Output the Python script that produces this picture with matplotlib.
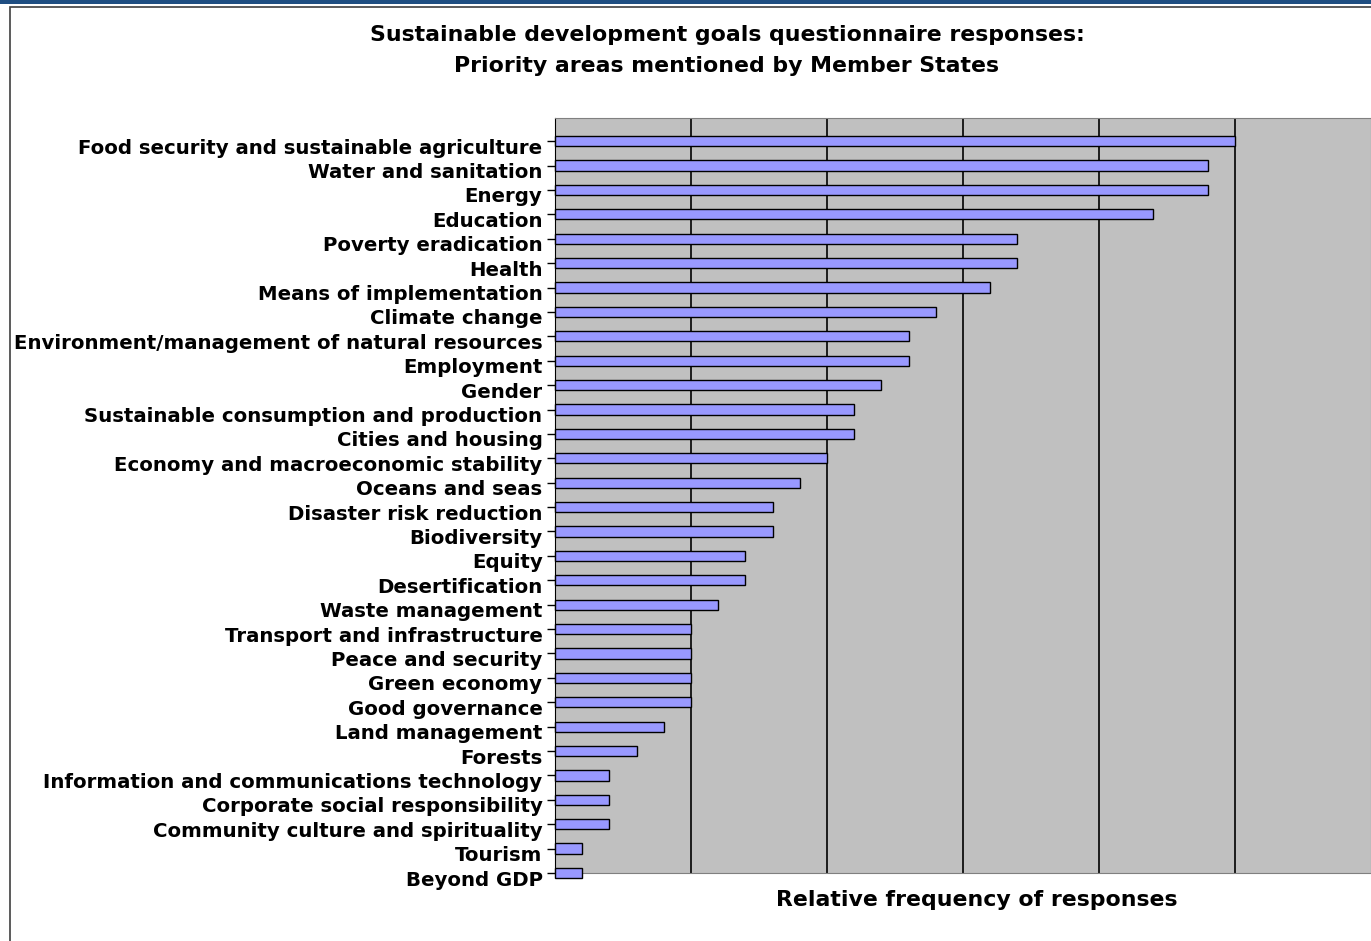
import matplotlib.pyplot as plt
from matplotlib.patches import Rectangle
from matplotlib.transforms import ScaledTranslation

plt.rcParams['font.family'] = ['DejaVu Sans']

areas = ['Food security and sustainable agriculture', 'Water and sanitation', 'Energy',
         'Education', 'Poverty eradication', 'Health', 'Means of implementation',
         'Climate change', 'Environment/management of natural resources', 'Employment',
         'Gender', 'Sustainable consumption and production', 'Cities and housing',
         'Economy and macroeconomic stability', 'Oceans and seas', 'Disaster risk reduction',
         'Biodiversity', 'Equity', 'Desertification', 'Waste management',
         'Transport and infrastructure', 'Peace and security', 'Green economy',
         'Good governance', 'Land management', 'Forests',
         'Information and communications technology', 'Corporate social responsibility',
         'Community culture and spirituality', 'Tourism', 'Beyond GDP']
counts = [25, 24, 24, 22, 17, 17, 16, 14, 13, 13, 12, 11, 11, 10, 9, 8, 8, 7, 7, 6,
          5, 5, 5, 5, 4, 3, 2, 2, 2, 1, 1]

W, H = 1371, 941
fig = plt.figure(figsize=(W / 100, H / 100), dpi=100)

# outer frame + blue top strip
fig.patches.append(Rectangle((0, 1 - 4 / H), 1, 4 / H, transform=fig.transFigure,
                             facecolor='#1f4e82', edgecolor='none'))
fig.patches.append(Rectangle((10 / W, -0.01), 1.2, 1 - 7 / H + 0.01, transform=fig.transFigure,
                             facecolor='none', edgecolor='#404040', lw=1.2))

ax = fig.add_axes([555 / W, 1 - 873 / H, (W - 555) / W, (873 - 118) / H])
ax.set_facecolor('#c0c0c0')
y = list(range(len(areas)))
ax.barh(y, counts, height=0.42, color='#9999ff', edgecolor='black', lw=1.0, zorder=3,
        clip_on=False)
ax.set_xlim(0, 30)
ax.set_ylim(len(areas) - 1, -0.95)
ax.set_xticks([5, 10, 15, 20, 25])
ax.xaxis.grid(True, color='black', lw=1.2, zorder=1)
ax.tick_params(axis='x', length=0, labelbottom=False)
ax.set_yticks(y)
ax.set_yticklabels(areas, fontsize=14.2, fontweight='bold')
ax.tick_params(axis='y', direction='out', length=6, width=1, pad=3)
# labels sit a little below their ticks in the original
off = ScaledTranslation(0, -5 / 100, fig.dpi_scale_trans)
for lab in ax.get_yticklabels():
    lab.set_transform(lab.get_transform() + off)
for s in ['top', 'right', 'bottom']:
    ax.spines[s].set_color('#808080')
ax.spines['left'].set_color('black')

fig.text(727 / W, 1 - 35 / H, 'Sustainable development goals questionnaire responses:',
         ha='center', va='center', fontsize=15.8, fontweight='bold')
fig.text(727 / W, 1 - 66 / H, 'Priority areas mentioned by Member States',
         ha='center', va='center', fontsize=15.8, fontweight='bold')
fig.text(977 / W, 1 - 900 / H, 'Relative frequency of responses',
         ha='center', va='center', fontsize=15.8, fontweight='bold')

fig.savefig('out.png', dpi=100)
